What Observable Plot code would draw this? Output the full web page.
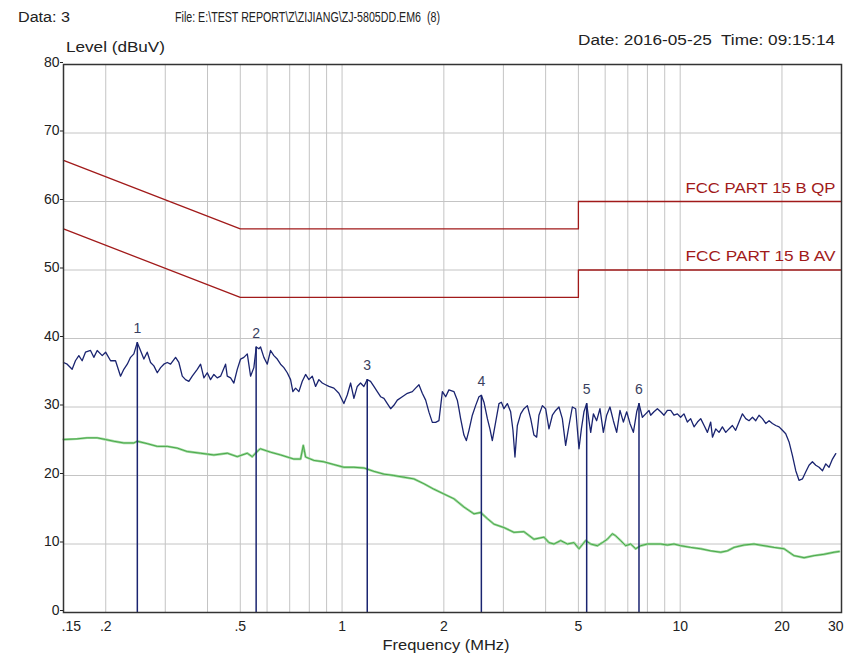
<!DOCTYPE html>
<html>
<head>
<meta charset="utf-8">
<script src="https://cdn.jsdelivr.net/npm/d3@7"></script>
<script src="https://cdn.jsdelivr.net/npm/@observablehq/plot@0.6"></script>
<style>
  html, body { margin: 0; padding: 0; background: #fff; }
  #chart { width: 855px; height: 657px; }
</style>
</head>
<body>
<div id="chart"></div>
<script>
// ---- Data ----
const xTicks = [0.15, 0.2, 0.5, 1, 2, 5, 10, 20, 30];
const xTickLabels = [".15", ".2", ".5", "1", "2", "5", "10", "20", "30"];
const yTicks = [0, 10, 20, 30, 40, 50, 60, 70, 80];
const xGrid = [0.2, 0.3, 0.4, 0.5, 0.6, 0.7, 0.8, 0.9, 1, 2, 3, 4, 5, 6, 7, 8, 9, 10, 20];
const yGrid = [10, 20, 30, 40, 50, 60, 70];

const qpFreq = [0.15, 0.5, 5, 5, 30];
const qpLevel = [66, 56, 56, 60, 60];
const avFreq = [0.15, 0.5, 5, 5, 30];
const avLevel = [56, 46, 46, 50, 50];
const limitNames = ["FCC PART 15 B QP", "FCC PART 15 B AV"];

const peakFreq = [0.150,0.1538,0.1591,0.1627,0.1665,0.1703,0.1742,0.1803,0.1844,0.1887,0.1953,0.1998,0.2067,0.2138,0.2212,0.2262,0.2316,0.2368,0.2422,0.2478,0.2534,0.2593,0.2653,0.2714,0.2776,0.2841,0.2906,0.2971,0.3041,0.3110,0.3218,0.3291,0.3368,0.3443,0.3522,0.3605,0.3730,0.3815,0.3902,0.3993,0.4083,0.4177,0.4274,0.4372,0.4523,0.4575,0.4680,0.4786,0.4898,0.5010,0.5124,0.5244,0.5363,0.5484,0.5574,0.5674,
0.5740,0.5871,0.6009,0.6145,0.6285,0.6431,0.6578,0.6728,0.6885,0.7042,0.7153,0.7286,0.7452,0.7626,0.7800,0.7977,0.8164,0.8350,0.8539,0.8740,0.8937,0.9142,0.9458,0.9786,1.0125,1.036,1.060,1.084,1.109,1.134,1.160,1.187,1.214,1.242,1.271,1.300,1.330,1.361,1.392,1.423,1.457,1.507,1.560,1.614,1.650,1.688,1.727,1.767,1.807,1.849,1.891,1.934,1.980,2.025,2.070,2.142,
2.192,2.216,2.242,2.293,2.331,2.373,2.428,2.483,2.540,2.582,2.628,2.690,2.737,2.782,2.846,2.911,2.959,3.012,3.082,3.152,3.202,3.246,3.299,3.375,3.451,3.532,3.613,3.694,3.763,3.822,3.912,4.000,4.092,4.188,4.283,4.380,4.482,4.584,4.689,4.798,4.908,5.020,5.103,5.193,5.290,5.373,5.437,5.538,5.662,5.791,5.926,6.061,6.199,6.344,6.489,6.637,6.792,6.947,7.104,7.271,7.437,7.554,7.730,7.907,8.087,
8.180,8.365,8.562,8.757,8.956,9.166,9.376,9.587,9.813,10.03,10.26,10.50,10.74,10.99,11.25,11.50,11.77,12.04,12.31,12.46,12.74,13.03,13.33,13.64,13.94,14.27,14.59,14.93,15.28,15.63,15.98,16.36,16.73,17.11,17.51,17.91,18.32,18.74,19.17,19.61,20.06,20.52,20.99,21.48,21.97,22.46,22.99,23.51,24.05,24.61,25.18,25.75,26.36,26.95,27.56,28.21,28.85];
const peakLevel = [36.5,36.25,35.5,36.75,37.5,36.75,38,38.25,37.25,38.25,37.5,38,36.75,36.75,34.5,35.5,36.25,37.25,37.75,39.4,38.25,37,38,36.5,36,35,35.75,36.25,36.5,36.25,37.25,36.5,34.5,34,33.75,34.5,35.5,36.25,34.25,35,34,34.75,34.25,34.5,36.25,34.5,34.25,33.5,35.5,37,37.25,37.75,34.5,35.75,38.75,38.5,
38.75,37.25,36.25,38.25,37.5,37,36.25,35.75,35,34,32.25,32.75,32.25,33.75,34.75,34,34.5,33,34,33.5,33.25,33,32.75,32,30.5,31.75,33.5,31.25,33,33.5,33,34,33.75,33,32.25,31.5,31.25,30.5,29.75,30.25,31,31.5,32,32.25,32.75,33.25,32,31,29.25,27.75,27.75,28,32.25,31.5,32.5,32.25,
31,29.75,28.3,25.9,25.1,26.6,28.8,30.2,31.5,31.7,30.7,28.3,26.8,25.1,27.8,30.5,30.7,29.75,30.5,29.3,26.6,22.7,27.3,29,29.75,30.2,28.3,25.9,25.6,28.8,30.2,29.75,26.8,28.8,29.5,30,28.3,24.4,27.3,30,29.75,23.9,26.8,29.3,30.5,28,26.3,29,28,29.75,26.3,28.8,30,28,26.3,29.5,27.8,29.3,27.6,26.3,29.3,30.5,28.5,29,29.5,
28.8,29.3,29.75,29.3,28.8,29.5,29.5,28.8,29,28.5,29,27.8,28.3,27.1,27.8,28.3,27.3,26.3,27.8,25.6,26.8,26.3,27.1,26.3,26.8,27.3,26.6,27.8,29,28.3,28,28.5,28,28.8,28.3,27.6,28,27.6,27.3,27.1,26.6,26.1,24.9,22.9,20.7,19.3,19.5,20.5,21.5,22,21.5,21.2,20.7,21.7,21.2,22.4,23.2];

const avgFreq = [0.150,0.1646,0.1762,0.1887,0.1998,0.2113,0.2262,0.2422,0.2478,0.2653,0.2841,0.3041,0.3255,0.3484,0.3815,0.4177,0.4575,0.4898,0.5244,0.5425,0.5674,0.5740,0.6145,0.6578,0.7203,0.7539,0.7679,0.7800,0.8253,0.8835,0.9458,1.0125,1.084,1.160,1.242,1.330,1.423,1.524,1.631,1.746,1.869,2.001,2.142,2.293,2.455,2.569,2.690,2.813,3.012,3.224,3.451,3.694,3.955,4.092,4.234,4.431,4.638,4.852,5.020,5.254,5.437,5.690,5.886,6.090,6.302,6.444,6.668,6.899,7.138,7.386,7.641,7.998,8.365,8.757,9.166,9.587,10.03,10.74,11.50,12.31,13.18,13.79,14.43,15.45,16.53,17.70,18.95,20.29,21.72,23.25,24.89,26.65,28.52,29.51];
const avgLevel = [25.25,25.35,25.5,25.5,25.25,25,24.75,24.75,25,24.65,24.25,24.25,24,23.5,23.25,23,23.25,22.75,23.25,22.75,23.75,23.9,23.4,23,22.4,22.4,24.4,22.7,22.2,22,21.6,21.2,21.2,21.1,20.6,20.2,20,19.75,19.5,18.8,18,17.3,16.6,15.4,14.4,14.6,13.7,12.9,12.4,11.7,11.8,10.7,11,10.2,10,10.5,10,10.2,9.3,10.5,10,9.75,10.2,10.7,11.5,11.2,10.5,9.75,10,9.3,9.75,10,10,10,9.85,10,9.75,9.5,9.3,9,8.8,9,9.5,9.85,10,9.75,9.5,9.3,8.3,8,8.3,8.5,8.8,8.9];

const markerNo = ["1", "2", "3", "4", "5", "6"];
const markerFreq = [0.248, 0.557, 1.187, 2.582, 5.29, 7.554];
const markerLevel = [39.4, 38.75, 34, 31.7, 30.5, 30.5];

// ---- Build tables ----
const zip = (xs, ys) => xs.map((x, i) => ({f: x, v: ys[i]}));
const qp = zip(qpFreq, qpLevel);
const av = zip(avFreq, avLevel);
const peak = zip(peakFreq, peakLevel);
const avg = zip(avgFreq, avgLevel);
const markers = markerNo.map((n, i) => ({n, f: markerFreq[i], v: markerLevel[i]}));
const limitLabels = [{name: limitNames[0], f: 30, v: 60}, {name: limitNames[1], f: 30, v: 50}];
const tickLabel = new Map(xTicks.map((t, i) => [t, xTickLabels[i]]));
const firstTick = xTicks[0];
const lastTick = xTicks[xTicks.length - 1];
const midTicks = xTicks.slice(1, -1);

const FONT = "Liberation Sans, Arial, sans-serif";
const limitColor = "#a11a1a";
const navy = "#1a2470";

const chart = Plot.plot({
  width: 855,
  height: 657,
  marginLeft: 63,
  marginRight: 14,
  marginTop: 64,
  marginBottom: 45,
  style: {fontFamily: FONT, fontSize: "13px", background: "#fff", color: "#222"},
  x: {type: "log", domain: [0.15, 30]},
  y: {domain: [0, 80]},
  marks: [
    Plot.ruleX(xGrid, {stroke: "#c4c4c4", strokeWidth: 1}),
    Plot.ruleY(yGrid, {stroke: "#c4c4c4", strokeWidth: 1}),
    Plot.line(qp, {x: "f", y: "v", stroke: limitColor, strokeWidth: 1.3}),
    Plot.line(av, {x: "f", y: "v", stroke: limitColor, strokeWidth: 1.3}),
    Plot.text(limitLabels, {x: "f", y: "v", text: "name", textAnchor: "end", dx: -6, dy: -13, fill: limitColor, fontSize: 14, className: "limit-label"}),
    Plot.line(avg, {x: "f", y: "v", stroke: "#9bd79b", strokeWidth: 2.4}),
    Plot.line(avg, {x: "f", y: "v", stroke: "#4aa84a", strokeWidth: 1}),
    Plot.ruleX(markers, {x: "f", y1: 0, y2: "v", stroke: navy, strokeWidth: 1.5}),
    Plot.line(peak, {x: "f", y: "v", stroke: navy, strokeWidth: 1.3}),
    Plot.text(markers, {x: "f", y: "v", text: "n", dy: -14, fill: "#3a3f60", fontSize: 14}),
    Plot.frame({stroke: "#333", strokeWidth: 1.5}),
    Plot.axisX({ticks: midTicks, tickFormat: d => tickLabel.get(d), tickSize: 0, tickPadding: 9, fontSize: 14, label: null}),
    Plot.axisX({ticks: [firstTick], tickFormat: d => tickLabel.get(d), tickSize: 0, tickPadding: 9, fontSize: 14, label: null, textAnchor: "start", dx: -2}),
    Plot.axisX({ticks: [lastTick], tickFormat: d => tickLabel.get(d), tickSize: 0, tickPadding: 9, fontSize: 14, label: null, textAnchor: "end", dx: 2}),
    Plot.axisY({ticks: yTicks, tickSize: 3, tickPadding: 1, fontSize: 14, label: null, dy: -2})
  ]
});

document.getElementById("chart").appendChild(chart);

// limit labels: condense to the width seen in the reference
d3.select(chart).selectAll(".limit-label text")
  .attr("textLength", 150).attr("lengthAdjust", "spacingAndGlyphs");

// ---- Header and axis titles ----
const svg = d3.select(chart);
function addText(t, x, y, anchor, len) {
  const el = svg.append("text")
    .attr("x", x).attr("y", y)
    .attr("text-anchor", anchor)
    .attr("font-family", FONT)
    .attr("font-size", 14)
    .attr("fill", "#222")
    .text(t);
  if (len) el.attr("textLength", len).attr("lengthAdjust", "spacingAndGlyphs");
  return el;
}
addText("Data: 3", 18, 22, "start", 52);
addText("File: E:\\TEST REPORT\\Z\\ZIJIANG\\ZJ-5805DD.EM6  (8)", 175, 22, "start", 265);
addText("Level (dBuV)", 66, 52, "start", 99);
addText("Date: 2016-05-25  Time: 09:15:14", 835, 45, "end", 257);
addText("Frequency (MHz)", 446, 650, "middle", 127);
</script>
</body>
</html>
